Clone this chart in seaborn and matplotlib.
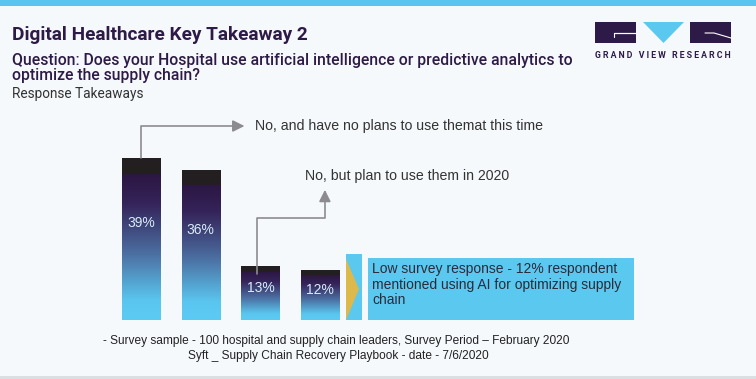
import numpy as np
import pandas as pd
import matplotlib
import matplotlib.pyplot as plt
import matplotlib.patches as mpatches
from matplotlib.colors import LinearSegmentedColormap
import seaborn as sns

# chart data
responses = ['Yes, already using', 'No, and have no plans', 'No, but plan to use in 2020', 'Low response']
values = [39, 36, 13, 12]
pct_labels = ['39%', '36%', '13%', '12%']
note_no_plans = 'No, and have no plans to use themat this time'
note_plan_2020 = 'No, but plan to use them in 2020'
callout_text = 'Low survey response - 12% respondent\nmentioned using AI for optimizing supply\nchain'
footer_lines = ['- Survey sample - 100 hospital and supply chain leaders, Survey Period \u2013 February 2020',
                'Syft _ Supply Chain Recovery Playbook - date - 7/6/2020']

df = pd.DataFrame({'response': responses, 'value': values})

sns.set_style('white')
plt.rcParams['font.family'] = ['Liberation Sans', 'DejaVu Sans']

W, H = 756, 379
BG = '#f5f9fc'
PURPLE = '#2e1a47'
LBLUE = '#5bc8f0'

fig = plt.figure(figsize=(W / 100, H / 100), dpi=100, facecolor=BG)


def fx(px):
    return px / W


def fy(py):
    return 1 - py / H


# header strip + bottom line
fig.add_artist(mpatches.Rectangle((0, fy(6)), 1, 6 / H, transform=fig.transFigure, color='#5bc5ef', lw=0))
fig.add_artist(mpatches.Rectangle((0, 0), 1, 3 / H, transform=fig.transFigure, color='#dcdfe2', lw=0))

# titles
head = ['Roboto', 'Liberation Sans', 'DejaVu Sans']
fig.text(fx(12), fy(40), 'Digital Healthcare Key Takeaway 2', fontsize=13.7, fontweight='bold',
         color=PURPLE, family=head, va='baseline')
fig.text(fx(12), fy(65), 'Question: Does your Hospital use artificial intelligence or predictive analytics to',
         fontsize=11.3, fontweight='medium', color=PURPLE, family=head, va='baseline')
fig.text(fx(12), fy(80), 'optimize the supply chain?', fontsize=11.3, fontweight='medium', color=PURPLE,
         family=head, va='baseline')
fig.text(fx(12), fy(98), 'Response Takeaways', fontsize=9.8, color='#333333', family=head, va='baseline')

# logo
fig.add_artist(mpatches.Rectangle((fx(595), fy(43)), 41 / W, 21 / H, transform=fig.transFigure,
                                  color=PURPLE, lw=0))
fig.add_artist(mpatches.Rectangle((fx(690), fy(43)), 41 / W, 21 / H, transform=fig.transFigure,
                                  color=PURPLE, lw=0))
fig.add_artist(mpatches.Polygon([(fx(643), fy(22)), (fx(684), fy(22)), (fx(663.5), fy(43))],
                                transform=fig.transFigure, color=LBLUE, lw=0))
fig.add_artist(plt.Line2D([fx(614), fx(636), fx(614), fx(614)], [fy(33), fy(33), fy(33), fy(37)],
                          transform=fig.transFigure, color='white', lw=0.8))
fig.add_artist(plt.Line2D([fx(705), fx(714), fx(731)], [fy(33), fy(33), fy(38)],
                          transform=fig.transFigure, color='white', lw=0.8))
fig.text(fx(663), fy(58), 'G R A N D   V I E W   R E S E A R C H', fontsize=6.3, fontweight='bold',
         color=PURPLE, ha='center', va='baseline', family=head)

# bars
ax = fig.add_axes([fx(111), fy(320), 239 / W, 162 / H])
ax.set_facecolor('none')
sns.barplot(data=df, x='response', y='value', ax=ax, width=0.64, color=LBLUE, edgecolor='none')
ax.set_xlim(-0.5, 3.5)
ax.set_ylim(0, 39)
ax.set_axis_off()

grad = LinearSegmentedColormap.from_list('bar', [
    (0.0, '#5ccbf4'), (0.12, '#5ac6ef'), (0.42, '#4b6c9f'), (0.72, '#35245a'),
    (0.90, '#2c1743'), (0.905, '#231f20'), (1.0, '#231f20')])
img = np.linspace(0, 1, 256).reshape(-1, 1)
for p in ax.patches:
    x0, y0, w, h = p.get_x(), p.get_y(), p.get_width(), p.get_height()
    im = ax.imshow(img, cmap=grad, origin='lower', extent=[x0, x0 + w, y0, y0 + h],
                   aspect='auto', zorder=3)
    im.set_clip_path(p)
    p.set_zorder(2)
ax.set_xlim(-0.5, 3.5)
ax.set_ylim(0, 39)

for i, (v, lab) in enumerate(zip(values, pct_labels)):
    ax.text(i, v * 0.6, lab, ha='center', va='center', fontsize=10, color='#d8ecf8', zorder=5)

# connector arrows
ARROW = '#8c8b90'
ax.plot([0, 0, 1.62], [values[0], 46.7, 46.7], color=ARROW, lw=1.2, clip_on=False, zorder=4)
ax.annotate('', xy=(1.78, 46.7), xytext=(1.6, 46.7), annotation_clip=False,
            arrowprops=dict(arrowstyle='-|>,head_length=0.7,head_width=0.35', color=ARROW, lw=1.2))
ax.text(1.91, 46.7, note_no_plans, ha='left', va='center', fontsize=10.2, color='#333333', clip_on=False)

ax.plot([1.94, 1.94, 3.08, 3.08], [values[2] - 2, 24.6, 24.6, 29], color=ARROW, lw=1.2,
        clip_on=False, zorder=6)
ax.annotate('', xy=(3.08, 32), xytext=(3.08, 28.5), annotation_clip=False,
            arrowprops=dict(arrowstyle='-|>,head_length=0.7,head_width=0.35', color=ARROW, lw=1.2))
ax.text(2.74, 34.6, note_plan_2020, ha='left', va='center', fontsize=10.2, color='#333333', clip_on=False)

# callout
fig.add_artist(mpatches.Rectangle((fx(346), fy(320)), 16 / W, 66 / H, transform=fig.transFigure,
                                  color=LBLUE, lw=0))
fig.add_artist(mpatches.Polygon([(fx(346), fy(259)), (fx(359), fy(289)), (fx(346), fy(320))],
                                transform=fig.transFigure, color='#dcb94a', lw=0))
fig.add_artist(mpatches.Rectangle((fx(368), fy(320)), 266 / W, 62 / H, transform=fig.transFigure,
                                  color=LBLUE, lw=0))
fig.text(fx(372), fy(262), callout_text, fontsize=10, color='#2b2b3a', ha='left', va='top',
         linespacing=1.15)

# footer
fig.text(fx(336), fy(344), footer_lines[0], fontsize=8.6, color='#222222', ha='center', va='baseline')
fig.text(fx(338), fy(359), footer_lines[1], fontsize=8.6, color='#222222', ha='center', va='baseline')

fig.savefig('out.png', dpi=100, facecolor=BG)
